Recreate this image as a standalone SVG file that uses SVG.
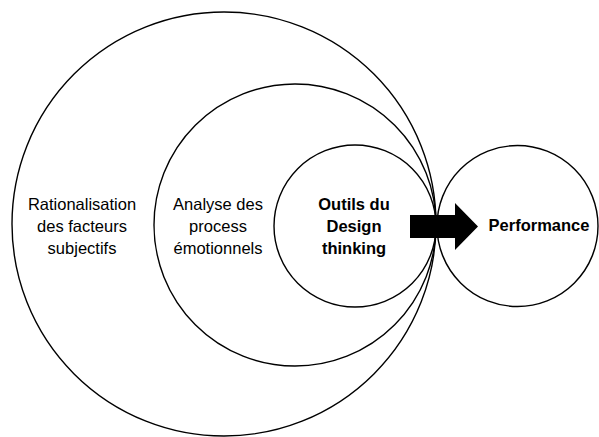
<svg xmlns="http://www.w3.org/2000/svg" width="599" height="437" viewBox="0 0 599 437">
<style>
  .c { fill: none; stroke: #000; stroke-width: 1.4; }
  text { font-family: "Liberation Sans", Arial, sans-serif; font-size: 16.5px; fill: #000; text-anchor: middle; }
  .b { font-weight: bold; }
</style>
<rect width="599" height="437" fill="#fff"/>
<g id="outer">
  <circle class="c" cx="224" cy="224" r="212"/>
  <text x="82" y="210">Rationalisation</text>
  <text x="82" y="232">des facteurs</text>
  <text x="82" y="254">subjectifs</text>
</g>
<g id="middle">
  <circle class="c" cx="295" cy="225" r="141"/>
  <text x="218" y="210">Analyse des</text>
  <text x="218" y="232">process</text>
  <text x="218" y="254">émotionnels</text>
</g>
<g id="inner">
  <circle class="c" cx="355" cy="226" r="81"/>
  <text class="b" x="354" y="210">Outils du</text>
  <text class="b" x="354" y="232">Design</text>
  <text class="b" x="354" y="254">thinking</text>
</g>
<g id="performance">
  <circle class="c" cx="517.5" cy="226" r="80.5"/>
  <text class="b" x="539" y="231">Performance</text>
</g>
<g id="connectors">
  <polygon points="410,215 455,215 455,203 478,226.5 455,250 455,238 410,238" fill="#000"/>
</g>
</svg>
